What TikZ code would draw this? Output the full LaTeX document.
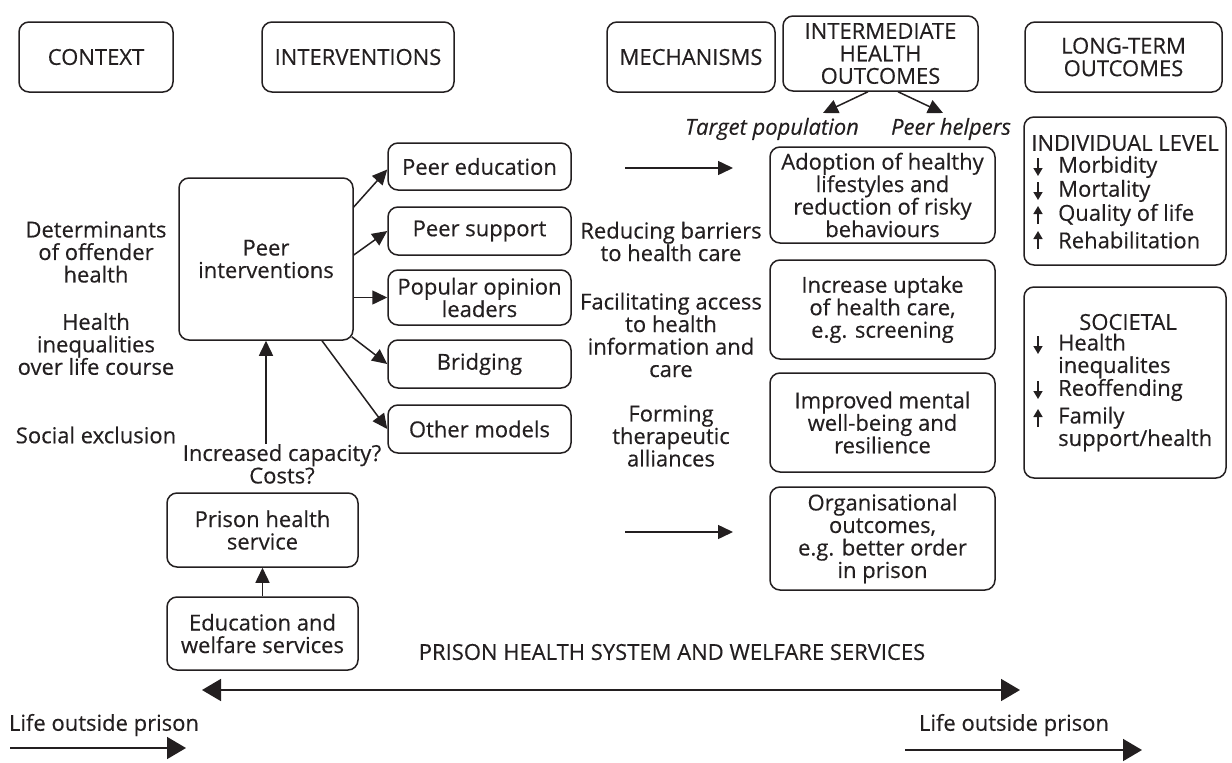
\documentclass[tikz,border=0pt]{standalone}
\usepackage{fontspec}
\setmainfont{Open Sans}[FakeBold=0.35]
\usetikzlibrary{arrows.meta,calc}
\definecolor{ink}{HTML}{231F20}
\begin{document}
\begin{tikzpicture}[x=1pt,y=-1pt,
  every node/.style={font=\fontsize{22}{22.5}\selectfont, text=ink},
  box/.style={draw=ink, line width=1.5pt, rounded corners=10pt, align=center, inner sep=1pt},
  txt/.style={align=center, inner sep=0pt},
  arr/.style={draw=ink, line width=1.5pt, -{Triangle[length=15pt,width=14pt]}},
  bigarr/.style={draw=ink, line width=1.7pt, -{Triangle[length=19pt,width=22pt]}},
  tiny/.style={draw=ink, line width=1.5pt, -{Triangle[length=8pt,width=9pt]}},
  item/.style={anchor=west, align=left, inner sep=0pt}]
\useasboundingbox (0,0) rectangle (1232,763);

% headers
\node[box, minimum width=154pt, minimum height=70pt] (ctx) at (96,57) {CONTEXT};
\node[box, minimum width=192pt, minimum height=70pt] (intv) at (358,57) {INTERVENTIONS};
\node[box, minimum width=168pt, minimum height=70pt] (mech) at (691,57) {MECHANISMS};
\node[box, minimum width=195pt, minimum height=75pt] (iho) at (880.5,53.5) {INTERMEDIATE\\HEALTH\\OUTCOMES};
\node[box, minimum width=197pt, minimum height=70pt] (lto) at (1123.5,57) {LONG-TERM\\OUTCOMES};

% IHO fork
\node[txt, font=\fontsize{22}{22.5}\selectfont\itshape] (tp) at (772,129) {Target population};
\node[txt, font=\fontsize{22}{22.5}\selectfont\itshape] (ph) at (951,129) {Peer helpers};
\coordinate (tpt) at (823,113);
\coordinate (pht) at (943,113);
\draw[arr] ([xshift=-12.5pt]iho.south) -- (tpt);
\draw[arr] ([xshift=17.5pt]iho.south) -- (pht);

% context texts
\node[txt] (det) at (96,252) {Determinants\\of offender\\health};
\node[txt] (hin) at (96,344) {Health\\inequalities\\over life course};
\node[txt] (sex) at (96,435) {Social exclusion};

% interventions
\node[box, minimum width=174pt, minimum height=162pt] (pi) at (266,259) {Peer\\interventions};
\node[box, minimum width=183pt, minimum height=47pt] (pe) at (479.5,166.5) {Peer education};
\node[box, minimum width=183pt, minimum height=48pt] (ps) at (479.5,231) {Peer support};
\node[box, minimum width=183pt, minimum height=55pt] (pol) at (479.5,297.5) {Popular opinion\\leaders};
\node[box, minimum width=183pt, minimum height=48pt] (br) at (479.5,364) {Bridging};
\node[box, minimum width=183pt, minimum height=48pt] (om) at (479.5,429) {Other models};

\draw[arr] ([yshift=52pt]pi.east) -- ([yshift=-3pt]pe.west);
\draw[arr] ([yshift=4pt]pi.east) -- (ps.west);
\draw[arr] (pi.east |- pol.west) -- (pol.west);
\draw[arr] ([xshift=-2pt,yshift=4pt]pi.south east) -- (br.west);
\draw[arr] ([xshift=56pt]pi.south) -- (om.west);

\node[txt] (cap) at (282,464) {Increased capacity?\\Costs?};
\draw[arr] (pi.south |- cap.north) -- (pi.south);

\node[box, minimum width=191pt, minimum height=74pt] (phs) at (262.5,530) {Prison health\\service};
\node[box, minimum width=191pt, minimum height=73pt] (edu) at (262.5,633.5) {Education and\\welfare services};
\draw[arr] (edu.north) -- (phs.south);

% mechanisms
\node[txt] (m1) at (671,241.5) {Reducing barriers\\to health care};
\node[txt] (m2) at (671,335) {Facilitating access\\to health\\information and\\care};
\node[txt] (m3) at (671,436) {Forming\\therapeutic\\alliances};
\coordinate (a1s) at (625,168); \coordinate (a1e) at (733,168);
\coordinate (a2s) at (625,532); \coordinate (a2e) at (733,532);
\draw[arr] (a1s) -- (a1e);
\draw[arr] (a2s) -- (a2e);

% intermediate outcomes
\node[box, minimum width=225pt, minimum height=96pt] (ad) at (882.5,195) {Adoption of healthy\\lifestyles and\\reduction of risky\\behaviours};
\node[box, minimum width=225pt, minimum height=99pt] (inc) at (882.5,309.5) {Increase uptake\\of health care,\\e.g. screening};
\node[box, minimum width=225pt, minimum height=99pt] (imp) at (882.5,422.5) {Improved mental\\well-being and\\resilience};
\node[box, minimum width=225pt, minimum height=103pt] (org) at (882.5,538.5) {Organisational\\outcomes,\\e.g. better order\\in prison};

% long-term outcomes
\node[box, minimum width=202pt, minimum height=148pt] (ind) at (1125,191) {};
\node[txt] (indt) at (1125,143) {INDIVIDUAL LEVEL};
\node[item] (i1) at (1058,167) {Morbidity};
\node[item] (i2) at (1058,191) {Mortality};
\node[item] (i3) at (1058,215) {Quality of life};
\node[item] (i4) at (1058,240) {Rehabilitation};
\draw[tiny] (1038,158) -- (1038,176);
\draw[tiny] (1038,182) -- (1038,200);
\draw[tiny] (1038,224) -- (1038,206);
\draw[tiny] (1038,249) -- (1038,231);

\node[box, minimum width=202pt, minimum height=191pt] (soc) at (1125,382.5) {};
\node[txt] (soct) at (1128,322) {SOCIETAL};
\node[item] (s1) at (1058,356) {Health\\inequalites};
\node[item] (s2) at (1058,390) {Reoffending};
\node[item] (s3) at (1058,429) {Family\\support/health};
\draw[tiny] (1038,336) -- (1038,354);
\draw[tiny] (1038,381) -- (1038,399);
\draw[tiny] (1038,427) -- (1038,409);

% bottom
\node[txt] (phsys) at (672,652) {PRISON HEALTH SYSTEM AND WELFARE SERVICES};
\coordinate (dl) at (202,690); \coordinate (dr) at (1020,690);
\draw[draw=ink, line width=1.7pt, {Triangle[length=19pt,width=22pt]}-{Triangle[length=19pt,width=22pt]}] (dl) -- (dr);
\node[txt] (lo1) at (104,725) {Life outside prison};
\node[txt] (lo2) at (1014,725) {Life outside prison};
\coordinate (b1s) at (10,748); \coordinate (b1e) at (186,748);
\coordinate (b2s) at (905,750); \coordinate (b2e) at (1142,750);
\draw[bigarr] (b1s) -- (b1e);
\draw[bigarr] (b2s) -- (b2e);
\end{tikzpicture}
\end{document}
